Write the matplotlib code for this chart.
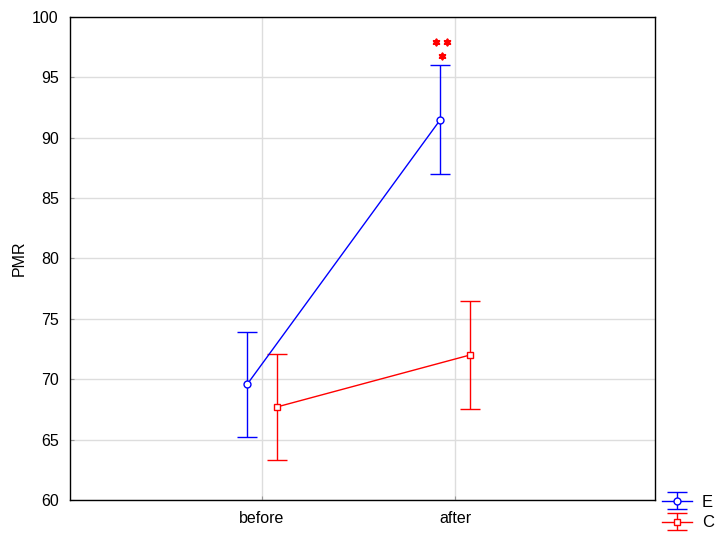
import numpy as np
import matplotlib.pyplot as plt

plt.rcParams['font.family'] = ['Liberation Sans', 'DejaVu Sans']

categories = ["before", "after"]
e_mean = [69.6, 91.5]
e_err = [4.35, 4.5]
c_mean = [67.7, 72.0]
c_err = [4.35, 4.5]
# significance marks above E "after"
star_x = [0.902, 0.957, 0.930]
star_y = [97.9, 97.9, 96.8]

fig = plt.figure(figsize=(7.17, 5.41), dpi=100)
ax = fig.add_axes([0.0976, 0.0758, 0.8159, 0.8928])

x = np.arange(len(categories))
off = 0.076

ax.errorbar(x - off, e_mean, yerr=e_err, color="blue", marker="o", mfc="white",
            mec="blue", ms=5, capsize=7, lw=1, elinewidth=1, label="E", zorder=3)
ax.errorbar(x + off, c_mean, yerr=c_err, color="red", marker="s", mfc="white",
            mec="red", ms=5, capsize=7, lw=1, elinewidth=1, label="C", zorder=3)

ax.scatter(star_x, star_y, marker=(6, 1, 0), s=22, color="red", lw=1.4,
           edgecolor="red", zorder=4)

ax.set_xlim(-0.995, 2.036)
ax.set_ylim(60, 100)
ax.set_xticks(x)
ax.set_xticklabels(categories)
ax.set_yticks(np.arange(60, 101, 5))
ax.set_ylabel("PMR", fontsize=11.5, labelpad=4)
ax.tick_params(labelsize=11.5, length=3, direction="in", pad=8, color="#999999")
ax.grid(True, color="#dddddd", lw=1)
ax.set_axisbelow(True)
for s in ax.spines.values():
    s.set_linewidth(1)

ax.legend(loc="upper left", bbox_to_anchor=(1.0, 0.025), frameon=False,
          fontsize=12, handlelength=1.8, handletextpad=0.6, borderaxespad=0,
          labelspacing=0.35)

plt.savefig("out.png", dpi=100)
